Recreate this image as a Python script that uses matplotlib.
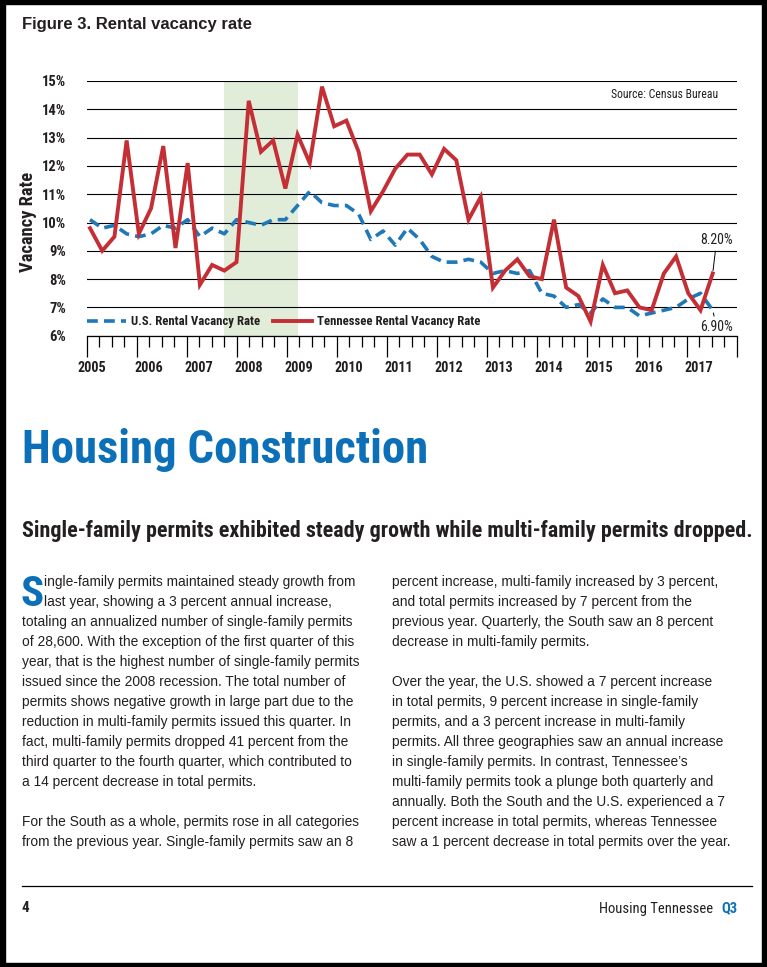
import numpy as np
import matplotlib
matplotlib.use("Agg")
import matplotlib.pyplot as plt
from matplotlib import font_manager as fm
from matplotlib.lines import Line2D
from matplotlib.patches import Rectangle
from matplotlib.font_manager import FontProperties

# ---------------- data ----------------
years = list(range(2005, 2018))
quarters = [f"{y} Q{q}" for y in years for q in (1, 2, 3, 4)]
us_rate = [10.1, 9.8, 9.9, 9.6,
           9.5, 9.6, 9.9, 9.8,
           10.1, 9.5, 9.8, 9.6,
           10.1, 10.0, 9.9, 10.1,
           10.1, 10.6, 11.1, 10.7,
           10.6, 10.6, 10.3, 9.4,
           9.7, 9.2, 9.8, 9.4,
           8.8, 8.6, 8.6, 8.7,
           8.6, 8.2, 8.3, 8.2,
           8.3, 7.5, 7.4, 7.0,
           7.1, 6.8, 7.3, 7.0,
           7.0, 6.7, 6.8, 6.9,
           7.0, 7.3, 7.5, 6.9]
tn_rate = [9.8, 9.0, 9.5, 12.9,
           9.6, 10.5, 12.7, 9.1,
           12.1, 7.8, 8.5, 8.3,
           8.6, 14.3, 12.5, 12.9,
           11.2, 13.1, 12.1, 14.8,
           13.4, 13.6, 12.5, 10.4,
           11.1, 11.9, 12.4, 12.4,
           11.7, 12.6, 12.2, 10.1,
           10.9, 7.7, 8.3, 8.7,
           8.1, 8.0, 10.1, 7.7,
           7.4, 6.5, 8.5, 7.5,
           7.6, 7.0, 6.9, 8.2,
           8.8, 7.5, 6.9, 8.2]
series_names = ["U.S. Rental Vacancy Rate", "Tennessee Rental Vacancy Rate"]
year_labels = [str(y) for y in years]
y_ticks = [6, 7, 8, 9, 10, 11, 12, 13, 14, 15]
recession = ("2007 Q4", "2009 Q2")
source_text = "Source: Census Bureau"

title = "Figure 3. Rental vacancy rate"
y_label = "Vacancy Rate"
headline = "Housing Construction"
subhead = "Single-family permits exhibited steady growth while multi-family permits dropped."
left_col = [
    "ingle-family permits maintained steady growth from",
    "last year, showing a 3 percent annual increase,",
    "totaling an annualized number of single-family permits",
    "of 28,600. With the exception of the first quarter of this",
    "year, that is the highest number of single-family permits",
    "issued since the 2008 recession. The total number of",
    "permits shows negative growth in large part due to the",
    "reduction in multi-family permits issued this quarter. In",
    "fact, multi-family permits dropped 41 percent from the",
    "third quarter to the fourth quarter, which contributed to",
    "a 14 percent decrease in total permits.",
    "",
    "For the South as a whole, permits rose in all categories",
    "from the previous year. Single-family permits saw an 8",
]
right_col = [
    "percent increase, multi-family increased by 3 percent,",
    "and total permits increased by 7 percent from the",
    "previous year. Quarterly, the South saw an 8 percent",
    "decrease in multi-family permits.",
    "",
    "Over the year, the U.S. showed a 7 percent increase",
    "in total permits, 9 percent increase in single-family",
    "permits, and a 3 percent increase in multi-family",
    "permits. All three geographies saw an annual increase",
    "in single-family permits. In contrast, Tennessee\u2019s",
    "multi-family permits took a plunge both quarterly and",
    "annually. Both the South and the U.S. experienced a 7",
    "percent increase in total permits, whereas Tennessee",
    "saw a 1 percent decrease in total permits over the year.",
]
drop_cap = "S"
page_number = "4"
footer_text = "Housing Tennessee"
footer_q = "Q3"

# ---------------- fonts ----------------
names = {f.name for f in fm.fontManager.ttflist}
def first(*cands):
    for c in cands:
        if c in names:
            return c
    return None
SANS = first("Liberation Sans", "Arimo", "Roboto", "DejaVu Sans")
COND = first("Liberation Sans Narrow", "Roboto Condensed", "Open Sans Condensed",
             "Arial Narrow") or SANS

# ---------------- colours ----------------
RED = "#c42f36"
BLUE = "#1f78b8"
HEAD_BLUE = "#0c70b9"
GREEN = "#e2edd9"
INK = "#231f20"

# ---------------- figure ----------------
W, H = 767, 967
fig = plt.figure(figsize=(W / 100, H / 100), dpi=100)
fig.patch.set_facecolor("white")
R = fig.canvas.get_renderer()

def fx(px):
    return px / W

def fy(py):
    return 1 - py / H

def fit_w(t, w):
    bb = t.get_window_extent(renderer=R)
    t.set_fontsize(t.get_fontsize() * w / bb.width)

def fit_h(t, h):
    bb = t.get_window_extent(renderer=R)
    t.set_fontsize(t.get_fontsize() * h / bb.height)

# page frame
for (x0, y0, w, h) in [(0, 0, 5, H), (762, 0, 5, H), (0, 0, W, 4), (0, H - 4, W, 4)]:
    fig.patches.append(Rectangle((fx(x0), fy(y0 + h)), w / W, h / H,
                                 transform=fig.transFigure, color="black", zorder=10))

# ---------------- chart ----------------
AX_L, AX_R, AX_T, AX_B = 86.7, 736.7, 81.0, 335.7
P0, P1 = 90.0, 712.7          # pixel x of first / last quarter
n = len(quarters)
ppq = (P1 - P0) / (n - 1)
def px2idx(px):
    return (px - P0) / ppq

ax = fig.add_axes([fx(AX_L), fy(AX_B), (AX_R - AX_L) / W, (AX_B - AX_T) / H])
x = np.arange(n)
ax.set_xlim(px2idx(AX_L), px2idx(AX_R))
ax.set_ylim(y_ticks[0], y_ticks[-1])

ax.axvspan(quarters.index(recession[0]), quarters.index(recession[1]),
           color=GREEN, lw=0, zorder=0.2)

ax.plot(x, us_rate, color=BLUE, lw=2.6, dashes=(3.0, 1.7), dash_capstyle="butt", zorder=3)
ax.plot(x, tn_rate, color=RED, lw=2.8, solid_joinstyle="miter", zorder=4)

for s in ("top", "right", "left"):
    ax.spines[s].set_visible(False)
ax.spines["bottom"].set_color("black")
ax.spines["bottom"].set_linewidth(0.9)
ax.set_axisbelow(True)
ax.set_yticks(y_ticks)
ax.set_yticklabels([f"{v}%" for v in y_ticks])
ax.yaxis.grid(True, color="black", lw=0.8)
ax.tick_params(axis="y", length=0, pad=15)
for lab in ax.get_yticklabels():
    lab.set_fontproperties(FontProperties(family=COND, weight="bold", size=10.5))
    lab.set_color(INK)

major = [px2idx(AX_L + 50 * k) for k in range(len(years) + 1)]
minor = [px2idx(AX_L + 12.5 * j) for j in range(4 * len(years) + 1)]
ax.set_xticks(major)
ax.set_xticks(minor, minor=True)
ax.set_xticklabels([])
ax.tick_params(axis="x", which="major", direction="out", length=15, width=0.9, color="black")
ax.tick_params(axis="x", which="minor", direction="out", length=8, width=0.9, color="black")

lab_px = [91.5] + [AX_L + 50 * k + 12.5 for k in range(1, len(years))]
sec = ax.secondary_xaxis("bottom")
sec.set_xticks([px2idx(p) for p in lab_px], labels=year_labels)
sec.tick_params(length=0, pad=18.5)
sec.spines["bottom"].set_visible(False)
for lab in sec.get_xticklabels():
    lab.set_fontproperties(FontProperties(family=COND, weight="bold", size=10.2))
    lab.set_color(INK)

handles = [Line2D([], [], color=BLUE, lw=2.6, dashes=(3.0, 1.7)),
           Line2D([], [], color=RED, lw=2.8)]
leg = ax.legend(handles, series_names, loc="center left", bbox_to_anchor=(0, 0.055),
                ncol=2, frameon=False, borderpad=0, borderaxespad=0,
                handlelength=3.1, handletextpad=0.35, columnspacing=1.0,
                prop=FontProperties(family=COND, weight="bold", size=9.2))
for t in leg.get_texts():
    t.set_color(INK)

ann_font = FontProperties(family=COND, size=10)
ax.annotate(f"{tn_rate[-1]:.2f}%", xy=(x[-1], tn_rate[-1]), xytext=(716.7, H - 240),
            textcoords="figure pixels", ha="center", va="center", fontproperties=ann_font,
            color=INK, arrowprops=dict(arrowstyle="-", color="black", lw=0.7,
                                       shrinkA=1, shrinkB=2))
ax.annotate(f"{us_rate[-1]:.2f}%", xy=(x[-1], us_rate[-1]), xytext=(716.7, H - 327.3),
            textcoords="figure pixels", ha="center", va="center", fontproperties=ann_font,
            color=INK, arrowprops=dict(arrowstyle="-", color="black", lw=0.7,
                                       shrinkA=1, shrinkB=2))

fig.text(fx(718.3), fy(98), source_text, ha="right", va="baseline",
         fontproperties=FontProperties(family=COND, size=8.5), color=INK)

t_y = fig.text(fx(28), fy(222), y_label, rotation=90, ha="center", va="center",
               fontproperties=FontProperties(family=COND, weight="bold", size=11), color=INK)
fit_h(t_y, 100)

# ---------------- page text ----------------
t_title = fig.text(fx(22), fy(29), title, ha="left", va="baseline",
                   fontproperties=FontProperties(family=SANS, weight="bold", size=11), color=INK)
fit_w(t_title, 231)

t_head = fig.text(fx(22), fy(462.7), headline, ha="left", va="baseline",
                  fontproperties=FontProperties(family=COND, weight="bold", size=32), color=HEAD_BLUE)
fit_w(t_head, 406)

t_sub = fig.text(fx(22), fy(537), subhead, ha="left", va="baseline",
                 fontproperties=FontProperties(family=COND, weight="bold", size=12), color=INK)
fit_w(t_sub, 730)

body_fp = FontProperties(family=SANS, size=10)
probe = fig.text(0, 0, left_col[4], fontproperties=body_fp)
bb = probe.get_window_extent(renderer=R)
body_size = 10 * 338 / bb.width
probe.remove()
body_fp = FontProperties(family=SANS, size=body_size)

for k, line in enumerate(left_col):
    if line:
        x0 = 44 if k < 2 else 22
        fig.text(fx(x0), fy(585.7 + 20.05 * k), line, ha="left", va="baseline",
                 fontproperties=body_fp, color=INK)
for k, line in enumerate(right_col):
    if line:
        fig.text(fx(392), fy(585.7 + 20.05 * k), line, ha="left", va="baseline",
                 fontproperties=body_fp, color=INK)

fig.text(fx(21), fy(606), drop_cap, ha="left", va="baseline",
         fontproperties=FontProperties(family=COND, weight="bold", size=31), color=HEAD_BLUE)

# footer
fig.add_artist(Line2D([fx(22), fx(752)], [fy(886), fy(886)], color="black", lw=0.9,
                      transform=fig.transFigure))
fig.text(fx(22), fy(912.5), page_number, ha="left", va="baseline",
         fontproperties=FontProperties(family=COND, weight="bold", size=11), color=INK)
t_q = fig.text(fx(737), fy(912.5), footer_q, ha="right", va="baseline",
               fontproperties=FontProperties(family=COND, weight="bold", size=10.5), color=HEAD_BLUE)
fig.text(fx(713), fy(912.5), footer_text, ha="right", va="baseline",
         fontproperties=FontProperties(family=COND, size=10.5), color=INK)

fig.savefig("out.png", dpi=100, facecolor="white")
